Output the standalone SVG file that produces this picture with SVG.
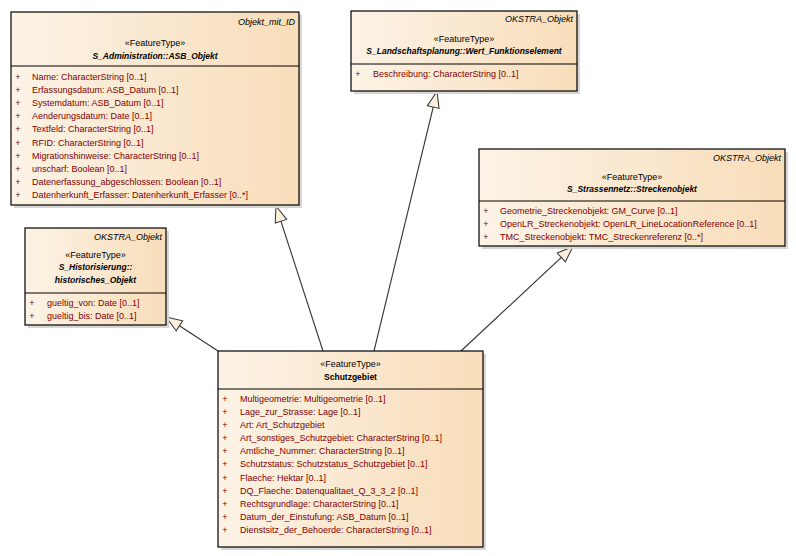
<svg xmlns="http://www.w3.org/2000/svg" width="796" height="556" viewBox="0 0 796 556">
<defs>
<linearGradient id="fill" x1="0" y1="0" x2="1" y2="0">
<stop offset="0" stop-color="#FCF3E6"/>
<stop offset="1" stop-color="#F8DDB9"/>
</linearGradient>
<marker id="gen" markerUnits="userSpaceOnUse" markerWidth="18" markerHeight="14" viewBox="-1 -1 18 14" refX="16" refY="6" orient="auto">
<path d="M0,0 L16,6 L0,12 Z" fill="#FBEEDC" stroke="#333" stroke-width="1"/>
</marker>
<style>
.sh{fill:#D6D6D6}
.bx{fill:url(#fill);stroke:#000;stroke-width:1.2}
.sep{stroke:#000;stroke-width:1}
text{font-family:"Liberation Sans",Arial,sans-serif;font-size:9px}
.hd{font-style:italic;text-anchor:end;fill:#000}
.st{text-anchor:middle;fill:#000}
.tt{text-anchor:middle;font-weight:bold;font-style:italic;font-size:8.5px;fill:#000}
.tn{text-anchor:middle;font-weight:bold;font-size:8.5px;fill:#000}
.at{fill:#800000}
.pl{fill:#800000;text-anchor:middle}
.cn{stroke:#333;stroke-width:1.1;fill:none;marker-end:url(#gen)}
</style>
</defs>
<rect width="796" height="556" fill="#fff"/>

<g id="connectors">
<line class="cn" x1="218" y1="351" x2="166" y2="317"/>
<line class="cn" x1="323" y1="351" x2="276" y2="206"/>
<line class="cn" x1="374" y1="351" x2="437" y2="91.5"/>
<line class="cn" x1="461" y1="351" x2="573" y2="246.5"/>
</g>

<g id="ASB_Objekt">
<rect class="sh" x="14" y="15" width="288" height="193"/>
<rect class="bx" x="11" y="12" width="288" height="193"/>
<line class="sep" x1="11" y1="66" x2="299" y2="66"/>
<text class="hd" x="295" y="25">Objekt_mit_ID</text>
<text class="st" x="155" y="46">«FeatureType»</text>
<text class="tt" x="155" y="59">S_Administration::ASB_Objekt</text>
<text class="pl" x="18" y="80">+</text><text class="at" x="32" y="80">Name: CharacterString [0..1]</text>
<text class="pl" x="18" y="93">+</text><text class="at" x="32" y="93">Erfassungsdatum: ASB_Datum [0..1]</text>
<text class="pl" x="18" y="106">+</text><text class="at" x="32" y="106">Systemdatum: ASB_Datum [0..1]</text>
<text class="pl" x="18" y="119">+</text><text class="at" x="32" y="119">Aenderungsdatum: Date [0..1]</text>
<text class="pl" x="18" y="132">+</text><text class="at" x="32" y="132">Textfeld: CharacterString [0..1]</text>
<text class="pl" x="18" y="146">+</text><text class="at" x="32" y="146">RFID: CharacterString [0..1]</text>
<text class="pl" x="18" y="159">+</text><text class="at" x="32" y="159">Migrationshinweise: CharacterString [0..1]</text>
<text class="pl" x="18" y="172">+</text><text class="at" x="32" y="172">unscharf: Boolean [0..1]</text>
<text class="pl" x="18" y="185">+</text><text class="at" x="32" y="185">Datenerfassung_abgeschlossen: Boolean [0..1]</text>
<text class="pl" x="18" y="198">+</text><text class="at" x="32" y="198">Datenherkunft_Erfasser: Datenherkunft_Erfasser [0..*]</text>
</g>

<g id="Wert_Funktionselement">
<rect class="sh" x="354" y="14" width="226" height="80"/>
<rect class="bx" x="351" y="11" width="226" height="80"/>
<line class="sep" x1="351" y1="64" x2="577" y2="64"/>
<text class="hd" x="573" y="22">OKSTRA_Objekt</text>
<text class="st" x="464" y="42">«FeatureType»</text>
<text class="tt" x="464" y="54">S_Landschaftsplanung::Wert_Funktionselement</text>
<text class="pl" x="358" y="77">+</text><text class="at" x="373" y="77">Beschreibung: CharacterString [0..1]</text>
</g>

<g id="Streckenobjekt">
<rect class="sh" x="482" y="152" width="306" height="97"/>
<rect class="bx" x="479" y="149" width="306" height="97"/>
<line class="sep" x1="479" y1="201" x2="785" y2="201"/>
<text class="hd" x="781" y="161">OKSTRA_Objekt</text>
<text class="st" x="632" y="180">«FeatureType»</text>
<text class="tt" x="632" y="192">S_Strassennetz::Streckenobjekt</text>
<text class="pl" x="486" y="214">+</text><text class="at" x="500" y="214">Geometrie_Streckenobjekt: GM_Curve [0..1]</text>
<text class="pl" x="486" y="227">+</text><text class="at" x="500" y="227">OpenLR_Streckenobjekt: OpenLR_LineLocationReference [0..1]</text>
<text class="pl" x="486" y="240">+</text><text class="at" x="500" y="240">TMC_Streckenobjekt: TMC_Streckenreferenz [0..*]</text>
</g>

<g id="historisches_Objekt">
<rect class="sh" x="28" y="231" width="141" height="97"/>
<rect class="bx" x="25" y="228" width="141" height="97"/>
<line class="sep" x1="25" y1="293" x2="166" y2="293"/>
<text class="hd" x="162" y="240">OKSTRA_Objekt</text>
<text class="st" x="95.5" y="258">«FeatureType»</text>
<text class="tt" x="95.5" y="270">S_Historisierung::</text>
<text class="tt" x="95.5" y="283">historisches_Objekt</text>
<text class="pl" x="32" y="306">+</text><text class="at" x="47" y="306">gueltig_von: Date [0..1]</text>
<text class="pl" x="32" y="319">+</text><text class="at" x="47" y="319">gueltig_bis: Date [0..1]</text>
</g>

<g id="Schutzgebiet">
<rect class="sh" x="221" y="354" width="265" height="196"/>
<rect class="bx" x="218" y="351" width="265" height="196"/>
<line class="sep" x1="218" y1="389" x2="483" y2="389"/>
<text class="st" x="350.5" y="367">«FeatureType»</text>
<text class="tn" x="350.5" y="380">Schutzgebiet</text>
<text class="pl" x="225" y="402">+</text><text class="at" x="240" y="402">Multigeometrie: Multigeometrie [0..1]</text>
<text class="pl" x="225" y="415">+</text><text class="at" x="240" y="415">Lage_zur_Strasse: Lage [0..1]</text>
<text class="pl" x="225" y="428">+</text><text class="at" x="240" y="428">Art: Art_Schutzgebiet</text>
<text class="pl" x="225" y="441">+</text><text class="at" x="240" y="441">Art_sonstiges_Schutzgebiet: CharacterString [0..1]</text>
<text class="pl" x="225" y="454">+</text><text class="at" x="240" y="454">Amtliche_Nummer: CharacterString [0..1]</text>
<text class="pl" x="225" y="467">+</text><text class="at" x="240" y="467">Schutzstatus: Schutzstatus_Schutzgebiet [0..1]</text>
<text class="pl" x="225" y="481">+</text><text class="at" x="240" y="481">Flaeche: Hektar [0..1]</text>
<text class="pl" x="225" y="494">+</text><text class="at" x="240" y="494">DQ_Flaeche: Datenqualitaet_Q_3_3_2 [0..1]</text>
<text class="pl" x="225" y="507">+</text><text class="at" x="240" y="507">Rechtsgrundlage: CharacterString [0..1]</text>
<text class="pl" x="225" y="520">+</text><text class="at" x="240" y="520">Datum_der_Einstufung: ASB_Datum [0..1]</text>
<text class="pl" x="225" y="533">+</text><text class="at" x="240" y="533">Dienstsitz_der_Behoerde: CharacterString [0..1]</text>
</g>
</svg>
